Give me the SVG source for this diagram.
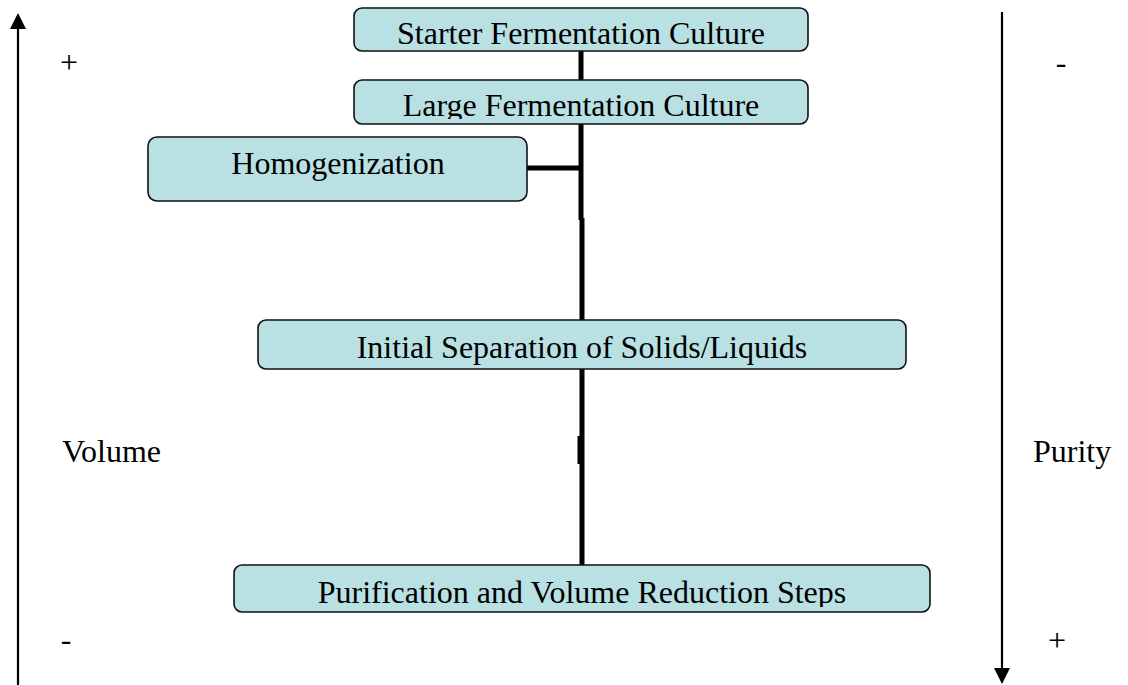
<svg xmlns="http://www.w3.org/2000/svg" width="1128" height="685" viewBox="0 0 1128 685">
<style>
.box{fill:#B9E0E3;stroke:#111;stroke-width:1.6}
.t{font-family:"Liberation Serif","Times New Roman",serif;font-size:32px;fill:#000}
.c{stroke:#000;stroke-width:5;fill:none}
.ax{stroke:#000;stroke-width:2.2;fill:none}
</style>
<defs>
<clipPath id="clipLarge"><rect x="354" y="80" width="454" height="39"/></clipPath>
<clipPath id="clipPur"><rect x="234" y="565" width="696" height="42"/></clipPath>
</defs>
<g id="axes">
<line class="ax" x1="18" y1="685" x2="18" y2="27"/>
<polygon points="18,13 10,29 26,29" fill="#000"/>
<line class="ax" x1="1002" y1="12" x2="1002" y2="670"/>
<polygon points="1002,684 994,668 1010,668" fill="#000"/>
</g>
<g id="connectors">
<line class="c" x1="581" y1="51" x2="581" y2="80"/>
<line class="c" x1="581" y1="124" x2="581" y2="220"/>
<line class="c" x1="582" y1="218" x2="582" y2="320"/>
<line class="c" x1="527" y1="168" x2="583" y2="168"/>
<line class="c" x1="582" y1="369" x2="582" y2="565"/>
<line stroke="#000" stroke-width="3" x1="579" y1="436" x2="579" y2="464"/>
</g>
<g id="starter">
<rect class="box" x="354" y="8" width="454" height="43" rx="8"/>
<text class="t" x="581" y="44" text-anchor="middle">Starter Fermentation Culture</text>
</g>
<g id="large">
<rect class="box" x="354" y="80" width="454" height="44" rx="8"/>
<text class="t" x="581" y="116" text-anchor="middle" clip-path="url(#clipLarge)">Large Fermentation Culture</text>
</g>
<g id="homogenization">
<rect class="box" x="148" y="137" width="379" height="64" rx="9"/>
<text class="t" x="338" y="174" text-anchor="middle">Homogenization</text>
</g>
<g id="initial">
<rect class="box" x="258" y="320" width="648" height="49" rx="8"/>
<text class="t" x="582" y="358" text-anchor="middle">Initial Separation of Solids/Liquids</text>
</g>
<g id="purification">
<rect class="box" x="234" y="565" width="696" height="47" rx="8"/>
<text class="t" x="582" y="603" text-anchor="middle" clip-path="url(#clipPur)">Purification and Volume Reduction Steps</text>
</g>
<g id="labels">
<text class="t" x="69" y="73" text-anchor="middle">+</text>
<text class="t" x="1061" y="73" text-anchor="middle">-</text>
<text class="t" x="62" y="462">Volume</text>
<text class="t" x="1033" y="462">Purity</text>
<text class="t" x="66" y="650" text-anchor="middle">-</text>
<text class="t" x="1057" y="651" text-anchor="middle">+</text>
</g>
</svg>
